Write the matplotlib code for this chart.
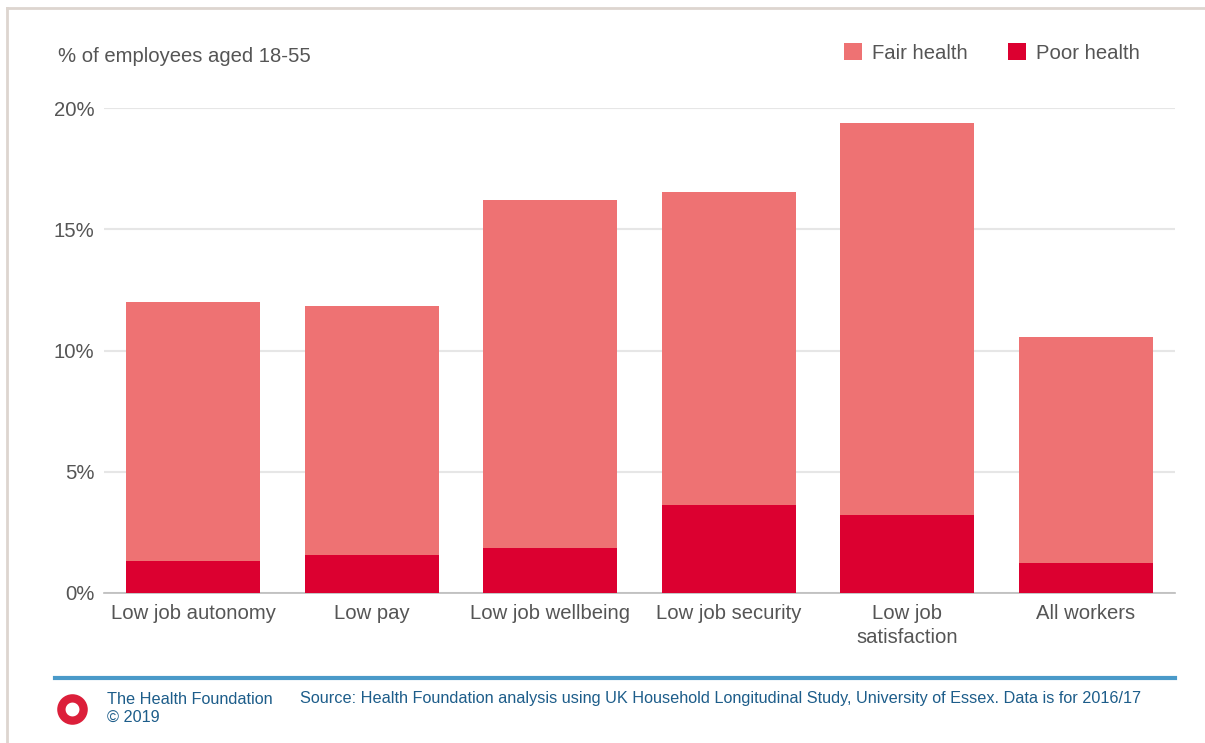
import matplotlib.pyplot as plt
from matplotlib.lines import Line2D
import numpy as np

plt.rcParams['font.family'] = ['Liberation Sans', 'DejaVu Sans']

# data (% of employees)
categories = ['Low job autonomy', 'Low pay', 'Low job wellbeing', 'Low job security',
              'Low job\nsatisfaction', 'All workers']
total = [12.0, 11.85, 16.2, 16.55, 19.4, 10.55]
poor = [1.32, 1.57, 1.86, 3.63, 3.22, 1.24]
fair = [t - p for t, p in zip(total, poor)]

c_fair = '#ee7273'
c_poor = '#dc0030'
grey = '#555555'

W, H = 1205, 743
fig = plt.figure(figsize=(W / 100, H / 100), dpi=100)
ax = fig.add_axes([104 / W, 150 / H, 1071 / W, 485 / H])

x = np.arange(len(categories))
b1 = ax.bar(x, poor, width=0.75, color=c_poor, label='Poor health', zorder=3)
b2 = ax.bar(x, fair, width=0.75, bottom=poor, color=c_fair, label='Fair health', zorder=3)

ax.set_xlim(-0.5, len(categories) - 0.5)
ax.set_ylim(0, 20)
ax.set_yticks([0, 5, 10, 15, 20])
ax.set_yticklabels(['0%', '5%', '10%', '15%', '20%'])
ax.yaxis.grid(True, color='#e6e6e6', linewidth=1.5, zorder=0)
ax.set_xticks(x)
ax.set_xticklabels(categories, linespacing=1.3)
ax.tick_params(axis='both', length=0, labelsize=14.6, labelcolor=grey)
ax.tick_params(axis='x', pad=8)
ax.tick_params(axis='y', pad=7)
for s in ['top', 'right', 'left']:
    ax.spines[s].set_visible(False)
ax.spines['bottom'].set_color('#bbbbbb')
ax.spines['bottom'].set_linewidth(1.2)

# y label at top-left
fig.text(58 / W, 1 - 56 / H, '% of employees aged 18-55', fontsize=14.6, color=grey, va='center')

# legend
fig.legend([b2, b1], ['Fair health', 'Poor health'], loc='center right',
           bbox_to_anchor=(1140 / W, 1 - 53 / H), ncol=2, frameon=False,
           handlelength=0.9, handleheight=0.9, handletextpad=0.5, columnspacing=1.95,
           borderpad=0, borderaxespad=0, fontsize=14.6, labelcolor=grey)

# frame lines
fig.add_artist(Line2D([7 / W, 1], [1 - 8 / H, 1 - 8 / H], transform=fig.transFigure,
                      color='#ddd5cf', linewidth=2))
fig.add_artist(Line2D([7 / W, 7 / W], [0, 1 - 8 / H], transform=fig.transFigure,
                      color='#ddd5cf', linewidth=2))

# footer
fig.add_artist(Line2D([55 / W, 1175 / W], [1 - 678 / H, 1 - 678 / H], transform=fig.transFigure,
                      color='#4a9ac9', linewidth=3))
fig.add_artist(Line2D([72 / W], [1 - 709 / H], transform=fig.transFigure, marker='o',
                      markersize=16, markerfacecolor='white', markeredgecolor='#dc1f3a',
                      markeredgewidth=6))
blue = '#1d5d8a'
fig.text(107 / W, 1 - 699 / H, 'The Health Foundation', fontsize=11.7, color=blue, va='center')
fig.text(107 / W, 1 - 717 / H, '© 2019', fontsize=11.7, color=blue, va='center')
fig.text(300 / W, 1 - 699 / H,
         'Source: Health Foundation analysis using UK Household Longitudinal Study, '
         'University of Essex. Data is for 2016/17', fontsize=11.7, color=blue, va='center')

fig.savefig('out.png', dpi=100)
